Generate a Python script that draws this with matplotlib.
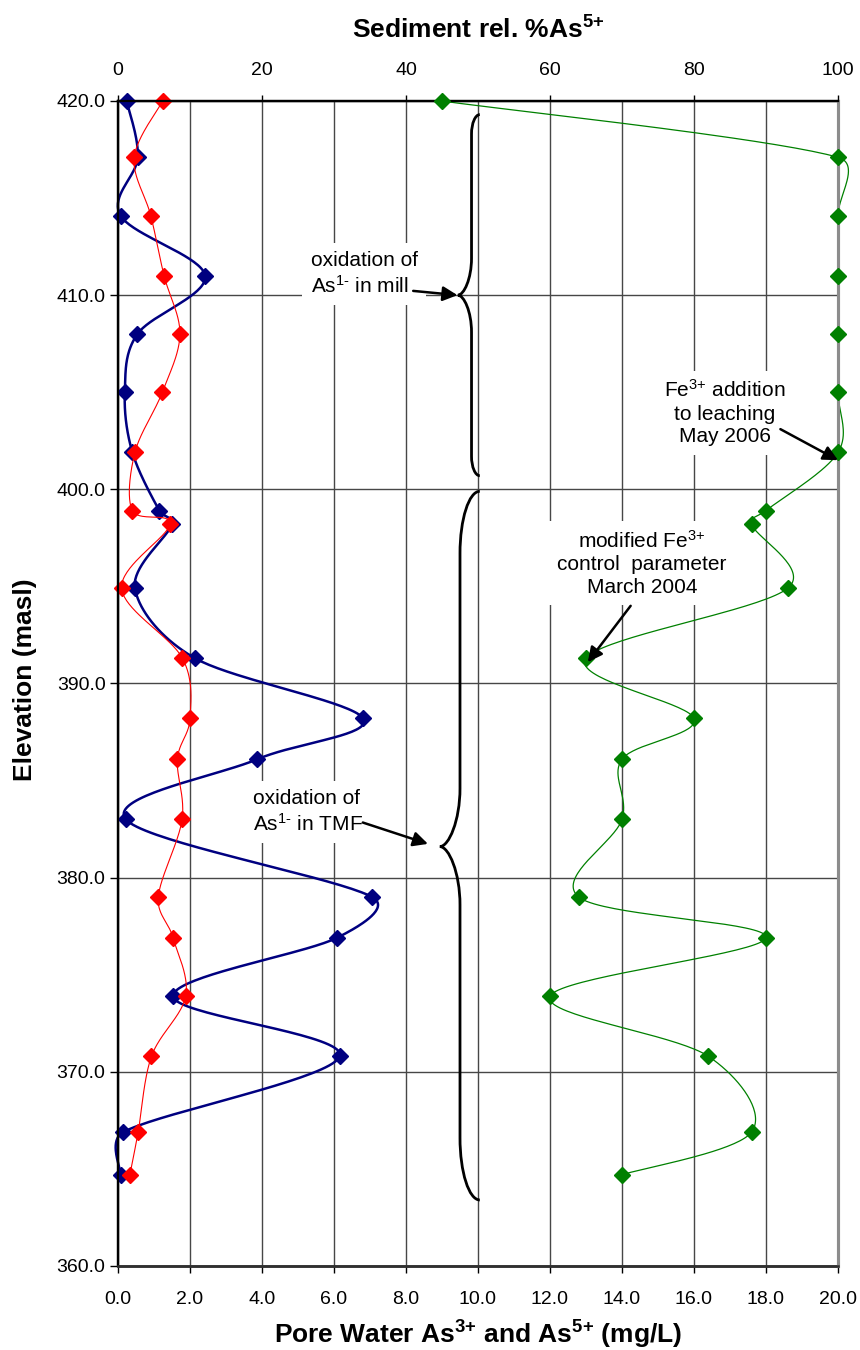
import numpy as np
import matplotlib
matplotlib.use("Agg")
import matplotlib.pyplot as plt
from matplotlib.path import Path
from matplotlib.patches import PathPatch
from matplotlib.ticker import FormatStrFormatter

plt.rcParams['font.family'] = ['Liberation Sans', 'DejaVu Sans']
plt.rcParams['mathtext.fontset'] = 'custom'
plt.rcParams['mathtext.rm'] = 'Liberation Sans'
plt.rcParams['mathtext.it'] = 'Liberation Sans:italic'
plt.rcParams['mathtext.bf'] = 'Liberation Sans:bold'

# ---------------- data ----------------
elevation = [420.0, 417.1, 414.1, 411.0, 408.0, 405.0, 401.9, 398.9, 398.2, 394.9,
             391.3, 388.2, 386.1, 383.0, 379.0, 376.9, 373.9, 370.8, 366.9, 364.7]
pore_as3 = [0.24, 0.55, 0.07, 2.42, 0.54, 0.19, 0.40, 1.15, 1.50, 0.47,
            2.14, 6.81, 3.87, 0.22, 7.06, 6.08, 1.53, 6.16, 0.15, 0.07]
pore_as5 = [1.24, 0.45, 0.91, 1.28, 1.72, 1.23, 0.47, 0.40, 1.44, 0.10,
            1.79, 2.00, 1.65, 1.78, 1.12, 1.53, 1.88, 0.93, 0.56, 0.33]
sed_as5_pct = [45, 100, 100, 100, 100, 100, 100, 90, 88, 93,
               65, 80, 70, 70, 64, 90, 60, 82, 88, 70]

bottom_ticks = np.arange(0, 20.1, 2.0)
top_ticks = [0, 20, 40, 60, 80, 100]
y_ticks = [360, 370, 380, 390, 400, 410, 420]

# ---------------- figure ----------------
W, H = 860, 1350
fig = plt.figure(figsize=(W / 100, H / 100), dpi=100)
L, R, T, B = 118, 838, 101, 1266
ax = fig.add_axes([L / W, 1 - B / H, (R - L) / W, (B - T) / H])
ax.set_xlim(0, 20)
ax.set_ylim(360, 420)
ax2 = ax.twiny()
ax2.set_xlim(0, 100)
ax2.set_ylim(360, 420)

ax.set_xticks(bottom_ticks)
ax.set_yticks(y_ticks)
ax.set_axisbelow(True)
ax.grid(True, color='#474747', lw=1.0)
ax.xaxis.set_major_formatter(FormatStrFormatter('%.1f'))
ax.yaxis.set_major_formatter(FormatStrFormatter('%.1f'))
ax.tick_params(axis='x', direction='out', length=5, width=1, pad=13, labelsize=14)
ax.tick_params(axis='y', direction='out', length=6, width=1, pad=3, labelsize=14)
ax2.set_xticks(top_ticks)
ax2.tick_params(axis='x', direction='out', length=4, width=1, pad=12, labelsize=14)

for a in (ax, ax2):
    a.spines['left'].set_color('black'); a.spines['left'].set_linewidth(1.6)
    a.spines['top'].set_color('black'); a.spines['top'].set_linewidth(1.6)
    a.spines['bottom'].set_color('#303030'); a.spines['bottom'].set_linewidth(1.8)
    a.spines['right'].set_color('#8c8c8c'); a.spines['right'].set_linewidth(2.2)


def excel_smooth(axis, xs, ys, n=40, limit=0.42):
    P = axis.transData.transform(np.column_stack([xs, ys]))
    N = len(P)
    out = [P[0]]
    t = np.linspace(0, 1, n)[1:][:, None]
    for i in range(N - 1):
        p0 = P[i - 1] if i > 0 else P[i]
        p1 = P[i]
        p2 = P[i + 1]
        p3 = P[i + 2] if i + 2 < N else P[i + 1]
        seg = np.linalg.norm(p2 - p1)
        a1 = (p2 - p0) / 6.0
        a2 = (p3 - p1) / 6.0
        lim = limit * seg
        for a in (a1, a2):
            na = np.linalg.norm(a)
            if na > lim and na > 0:
                a *= lim / na
        c1 = p1 + a1
        c2 = p2 - a2
        Bz = ((1 - t) ** 3) * p1 + 3 * ((1 - t) ** 2) * t * c1 + 3 * (1 - t) * t ** 2 * c2 + t ** 3 * p2
        out.extend(Bz)
    inv = axis.transData.inverted().transform(np.array(out))
    return inv[:, 0], inv[:, 1]


navy = '#000080'
red = '#ff0000'
green = '#008000'

sx, sy = excel_smooth(ax, pore_as3, elevation)
ax.plot(sx, sy, color=navy, lw=1.8, clip_on=False, zorder=2)
ax.plot(pore_as3, elevation, ls='none', marker='D', ms=8.5, color=navy, clip_on=False, zorder=3)
sx, sy = excel_smooth(ax, pore_as5, elevation)
ax.plot(sx, sy, color=red, lw=0.8, clip_on=False, zorder=4)
ax.plot(pore_as5, elevation, ls='none', marker='D', ms=8.5, color=red, clip_on=False, zorder=5)
sx, sy = excel_smooth(ax2, sed_as5_pct, elevation)
ax2.plot(sx, sy, color=green, lw=0.9, clip_on=False, zorder=2)
ax2.plot(sed_as5_pct, elevation, ls='none', marker='D', ms=8, color=green, clip_on=False, zorder=3)


def brace(xe, xs, xc, ytop, ybot, ycusp, r1, r2):
    k = 0.55
    verts = [(xe, ytop),
             (xe - k * (xe - xs), ytop), (xs, ytop - (1 - k) * r1), (xs, ytop - r1),
             (xs, ycusp + r2),
             (xs, ycusp + (1 - k) * r2), (xs - k * (xs - xc), ycusp), (xc, ycusp),
             (xs - k * (xs - xc), ycusp), (xs, ycusp - (1 - k) * r2), (xs, ycusp - r2),
             (xs, ybot + r1),
             (xs, ybot + (1 - k) * r1), (xe - k * (xe - xs), ybot), (xe, ybot)]
    codes = [Path.MOVETO, Path.CURVE4, Path.CURVE4, Path.CURVE4, Path.LINETO,
             Path.CURVE4, Path.CURVE4, Path.CURVE4, Path.CURVE4, Path.CURVE4, Path.CURVE4,
             Path.LINETO, Path.CURVE4, Path.CURVE4, Path.CURVE4]
    patch = PathPatch(Path(verts, codes), facecolor='none', edgecolor='black', lw=2.0,
                      transform=ax.transData, clip_on=False, zorder=6)
    ax2.add_patch(patch)


brace(10.05, 9.82, 9.44, 419.3, 400.7, 410.0, 1.0, 1.9)
brace(10.05, 9.50, 8.94, 399.9, 363.4, 381.6, 3.2, 3.0)

box = dict(facecolor='white', edgecolor='none', pad=6)
tkw = dict(transform=ax.transData, fontsize=15, va='center',
           bbox=box, zorder=7, linespacing=1.25)
ax2.text(5.35, 411.1, 'oxidation of\nAs$^{\\text{1-}}$ in mill', ha='left',
         multialignment='left', **tkw)
ax2.text(3.75, 383.4, 'oxidation of\nAs$^{\\text{1-}}$ in TMF', ha='left',
         multialignment='left', **tkw)
ax2.text(16.85, 403.95, 'Fe$^{\\text{3+}}$ addition\nto leaching\nMay 2006', ha='center',
         multialignment='center', **tkw)
ax2.text(14.55, 396.2, 'modified Fe$^{\\text{3+}}$\ncontrol  parameter\nMarch 2004', ha='center',
         multialignment='center', **tkw)

akw = dict(arrowstyle='-|>', color='black', lw=1.8, mutation_scale=22, shrinkA=0, shrinkB=0)
for tail, tip in [((8.2, 410.22), (9.43, 410.0)),
                  ((6.8, 382.84), (8.61, 381.74)),
                  ((18.4, 403.1), (20.0, 401.5)),
                  ((14.24, 394.0), (13.05, 391.1))]:
    ax2.annotate('', xy=tip, xytext=tail, xycoords=ax.transData, textcoords=ax.transData,
                 arrowprops=akw, zorder=8, annotation_clip=False)

fig.text(0.556, 1 - 39 / H, r'Sediment rel. %As$^{\mathbf{5{+}}}$', fontsize=19,
         fontweight='bold', ha='center', va='baseline')
fig.text(0.556, 1 - 1344 / H, r'Pore Water As$^{\mathbf{3{+}}}$ and As$^{\mathbf{5{+}}}$ (mg/L)',
         fontsize=19, fontweight='bold', ha='center', va='baseline')
fig.text(25 / W, 1 - 680 / H, 'Elevation (masl)', fontsize=19, fontweight='bold',
         rotation=90, ha='center', va='center')

fig.savefig('out.png', dpi=100)
